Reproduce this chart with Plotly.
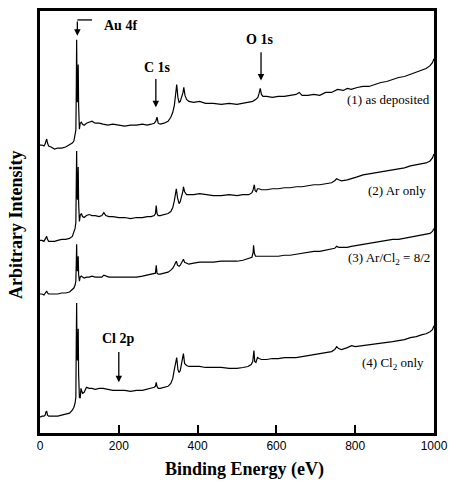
import plotly.graph_objects as go

# XPS survey spectra (arbitrary intensity units)
e1 = [0, 5, 10, 13, 15, 17, 19, 22, 28, 37, 45, 55, 65, 75, 82, 86, 89, 91, 92, 93,
      94, 95, 96, 97, 98, 100, 102, 105, 108, 112, 118, 125, 132, 140, 150, 160, 172, 185, 200, 215,
      230, 245, 260, 272, 282, 290, 294, 297, 300, 305, 315, 325, 332, 337, 341, 344, 347, 350, 353, 356,
      360, 363, 365, 368, 372, 378, 390, 405, 420, 440, 460, 480, 500, 515, 530, 540, 548, 553, 556, 559,
      562, 566, 575, 590, 605, 620, 635, 650, 658, 665, 680, 695, 710, 725, 740, 755, 770, 780, 790, 805,
      820, 835, 850, 865, 880, 895, 910, 925, 940, 955, 970, 980, 990, 996, 1000]
i1 = [290, 290, 289, 291, 294, 296, 292, 289, 288, 286, 287, 287, 288, 290, 292, 294, 299, 305, 340, 396,
      350, 333, 355, 371, 330, 306, 312, 313, 311, 310, 312, 313, 314, 312, 312, 311, 310, 311, 310, 309,
      310, 310, 311, 310, 311, 312, 314, 318, 312, 311, 312, 314, 318, 323, 330, 338, 351, 338, 333, 334,
      338, 343, 348, 340, 336, 334, 333, 334, 332, 332, 331, 332, 331, 332, 333, 334, 336, 338, 342, 347,
      341, 339, 339, 338, 339, 339, 340, 341, 343, 340, 340, 341, 340, 343, 343, 346, 345, 347, 346, 348,
      349, 349, 351, 353, 354, 356, 358, 359, 361, 363, 365, 367, 370, 373, 377]

e2 = [0, 5, 10, 13, 15, 17, 19, 22, 28, 37, 45, 55, 65, 75, 82, 86, 89, 91, 92, 93,
      94, 95, 96, 97, 98, 100, 102, 105, 108, 112, 118, 125, 132, 140, 150, 157, 162, 167, 175, 185,
      200, 215, 230, 245, 260, 272, 282, 290, 293, 295, 297, 300, 305, 315, 325, 332, 337, 341, 344, 346,
      349, 353, 356, 360, 363, 364, 367, 372, 378, 390, 405, 420, 440, 460, 480, 500, 515, 530, 538, 541,
      544, 546, 549, 552, 556, 562, 575, 590, 605, 620, 635, 650, 665, 680, 695, 710, 725, 740, 748, 753,
      758, 765, 780, 790, 805, 820, 835, 850, 865, 880, 895, 910, 925, 940, 955, 970, 980, 990, 996, 1000]
i2 = [194, 194, 193, 195, 197, 198, 195, 193, 193, 193, 194, 195, 195, 196, 198, 202, 206, 212, 240, 284,
      245, 235, 250, 268, 232, 213, 219, 221, 218, 217, 219, 220, 219, 219, 218, 219, 222, 219, 218, 218,
      217, 217, 216, 217, 217, 218, 218, 219, 221, 229, 221, 219, 219, 220, 221, 223, 227, 234, 240, 246,
      237, 231, 233, 238, 244, 248, 243, 240, 240, 240, 241, 240, 239, 239, 240, 239, 240, 240, 242, 245,
      250, 244, 243, 246, 246, 245, 245, 246, 246, 247, 247, 248, 248, 249, 250, 250, 251, 252, 254, 256,
      255, 254, 255, 256, 258, 260, 261, 262, 263, 264, 265, 266, 267, 269, 270, 271, 272, 274, 277, 281]

e3 = [0, 5, 10, 13, 15, 17, 19, 22, 28, 37, 45, 55, 65, 75, 82, 86, 89, 91, 92, 93,
      94, 95, 96, 97, 98, 100, 102, 105, 108, 112, 118, 125, 132, 140, 150, 157, 162, 167, 175, 185,
      200, 215, 230, 245, 260, 272, 282, 290, 293, 295, 297, 300, 305, 315, 325, 332, 337, 341, 344, 346,
      349, 353, 356, 360, 363, 364, 367, 372, 378, 390, 405, 420, 440, 460, 480, 500, 515, 530, 538, 541,
      542, 544, 547, 552, 556, 562, 575, 590, 605, 620, 635, 650, 665, 680, 695, 710, 725, 740, 748, 753,
      758, 765, 780, 790, 805, 820, 835, 850, 865, 880, 895, 910, 925, 940, 955, 970, 980, 990, 996, 1000]
i3 = [140, 140, 139, 141, 142, 143, 141, 140, 140, 140, 140, 141, 141, 142, 144, 146, 149, 153, 170, 190,
      168, 163, 170, 178, 160, 153, 157, 158, 157, 156, 157, 157, 158, 157, 157, 157, 159, 158, 157, 157,
      157, 157, 157, 157, 158, 159, 160, 160, 161, 169, 161, 160, 160, 161, 162, 164, 166, 169, 172, 173,
      169, 168, 169, 172, 174, 175, 172, 171, 170, 171, 172, 172, 172, 173, 173, 173, 174, 176, 177, 182,
      189, 181, 178, 178, 178, 178, 178, 178, 178, 179, 179, 180, 181, 182, 183, 183, 184, 185, 186, 188,
      187, 187, 187, 188, 189, 190, 191, 192, 193, 194, 195, 195, 196, 197, 198, 199, 200, 201, 203, 206]

e4 = [0, 5, 10, 13, 15, 17, 19, 22, 28, 37, 45, 55, 65, 75, 82, 86, 89, 91, 92, 93,
      94, 95, 96, 97, 98, 100, 102, 104, 106, 108, 112, 118, 125, 132, 140, 150, 160, 172, 185, 200,
      215, 230, 245, 260, 272, 282, 290, 293, 295, 297, 300, 305, 315, 325, 332, 337, 341, 344, 347, 350,
      353, 356, 360, 363, 364, 367, 372, 378, 390, 405, 420, 440, 460, 480, 500, 515, 528, 536, 540, 543,
      545, 548, 552, 556, 562, 575, 590, 605, 620, 635, 650, 665, 680, 695, 710, 725, 740, 748, 753, 758,
      765, 780, 791, 800, 820, 835, 850, 865, 880, 895, 910, 925, 940, 955, 970, 980, 990, 996, 1000]
i4 = [16, 17, 17, 18, 21, 22, 18, 17, 17, 17, 17, 18, 19, 20, 23, 26, 30, 36, 90, 131,
      80, 73, 90, 105, 60, 36, 35, 45, 42, 40, 41, 46, 45, 45, 44, 45, 45, 44, 43, 43,
      43, 42, 43, 43, 44, 45, 46, 47, 51, 47, 45, 45, 46, 47, 50, 55, 64, 70, 76, 64,
      61, 63, 70, 77, 80, 70, 68, 67, 67, 67, 66, 66, 66, 65, 65, 66, 67, 69, 72, 83,
      72, 71, 76, 75, 74, 74, 75, 75, 76, 76, 76, 77, 78, 79, 80, 81, 82, 84, 87, 85,
      84, 86, 88, 87, 88, 89, 89, 90, 91, 92, 93, 94, 96, 97, 99, 100, 102, 104, 108]

for e, i in [(e1, i1), (e2, i2), (e3, i3), (e4, i4)]:
    assert len(e) == len(i), (len(e), len(i))

fig = go.Figure()
for e, i in [(e1, i1), (e2, i2), (e3, i3), (e4, i4)]:
    fig.add_scatter(x=e, y=i, mode='lines', line=dict(color='black', width=1.2),
                    showlegend=False, hoverinfo='skip')

serif = 'Liberation Serif'
bold = dict(family=serif, size=14, color='black', weight='bold')
plain = dict(family=serif, size=13, color='black')

ann = []
# peak labels with arrows
ann.append(dict(x=157, y=410, text='Au 4f', showarrow=False, xanchor='left', font=bold))
ann.append(dict(x=297, y=368, text='C 1s', showarrow=False, font=bold))
ann.append(dict(x=556, y=396, text='O 1s', showarrow=False, font=bold))
ann.append(dict(x=200, y=95, text='Cl 2p', showarrow=False, font=bold))
for x, y0, y1 in [(94.8, 416, 400), (294, 358, 328), (561, 385, 355), (200, 83, 51)]:
    ann.append(dict(x=x, y=y1, ax=x, ay=y0, axref='x', ayref='y', text='', showarrow=True,
                    arrowhead=2, arrowsize=1, arrowwidth=1.3, arrowcolor='black'))

# sample labels
ann.append(dict(x=995, y=336, text='(1) as deposited', showarrow=False, xanchor='right', font=plain))
ann.append(dict(x=985, y=244, text='(2) Ar only', showarrow=False, xanchor='right', font=plain))
ann.append(dict(x=995, y=176, text='(3) Ar/Cl<sub>2</sub> = 8/2', showarrow=False, xanchor='right', font=plain))
ann.append(dict(x=980, y=70, text='(4) Cl<sub>2</sub> only', showarrow=False, xanchor='right', font=plain))

# axis titles
ann.append(dict(x=0.519, y=-0.087, xref='paper', yref='paper', text='Binding Energy (eV)',
                xanchor='center', yanchor='middle', showarrow=False,
                font=dict(family=serif, size=18, color='black', weight='bold')))
ann.append(dict(x=-0.0623, y=0.494, xref='paper', yref='paper', text='Arbitrary Intensity',
                xanchor='center', yanchor='middle', textangle=-90, showarrow=False,
                font=dict(family=serif, size=18, color='black', weight='bold')))

fig.update_layout(
    width=456, height=482,
    margin=dict(l=40, r=15, t=8, b=49),
    plot_bgcolor='white', paper_bgcolor='white',
    annotations=ann,
    shapes=[dict(type='line', x0=94.8, x1=132, y0=416, y1=416, xref='x', yref='y',
                 line=dict(color='black', width=1.3))],
)
fig.update_xaxes(range=[0, 1000], tickvals=[0, 200, 400, 600, 800, 1000],
                 ticks='inside', ticklen=8, tickwidth=2, tickcolor='black',
                 showline=True, linewidth=2.5, linecolor='black', mirror=True,
                 showgrid=False, zeroline=False,
                 tickfont=dict(family='Liberation Sans', size=12, color='black'))
fig.update_yaxes(range=[0, 425], showticklabels=False, ticks='',
                 showline=True, linewidth=2.5, linecolor='black', mirror=True,
                 showgrid=False, zeroline=False)

# page has a default body margin; drop it so the figure sits at the window corner
fig.write_html("out.html", config={'displayModeBar': False},
               post_script="document.body.style.margin='0';")
